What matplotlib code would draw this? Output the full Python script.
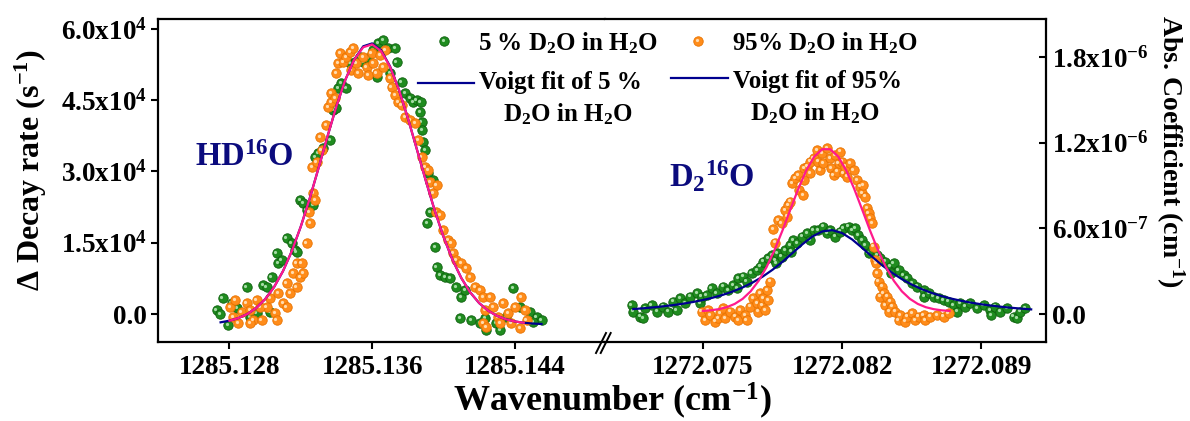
import numpy as np
import matplotlib
matplotlib.use("Agg")
import matplotlib.pyplot as plt
from matplotlib.lines import Line2D
from matplotlib import transforms

# ---------------- data ----------------
# HD16O band (left panel), decay-rate change in s^-1
hdo_5_x = [1285.12728, 1285.12746, 1285.12761, 1285.12793, 1285.12812, 1285.12843, 1285.12896, 1285.12914,
           1285.12952, 1285.12989, 1285.13008, 1285.13026, 1285.13036, 1285.13064, 1285.13073, 1285.13092,
           1285.13120, 1285.13148, 1285.13167, 1285.13176, 1285.13195, 1285.13213, 1285.13232, 1285.13269,
           1285.13279, 1285.13297, 1285.13325, 1285.13363, 1285.13381, 1285.13400, 1285.13409, 1285.13428,
           1285.13456, 1285.13475, 1285.13503, 1285.13531, 1285.13550, 1285.13578, 1285.13606, 1285.13625,
           1285.13634, 1285.13662, 1285.13690, 1285.13699, 1285.13727, 1285.13737, 1285.13765, 1285.13783,
           1285.13811, 1285.13830, 1285.13849, 1285.13867, 1285.13872, 1285.13877, 1285.13880, 1285.13886,
           1285.13895, 1285.13914, 1285.13923, 1285.13910, 1285.13942, 1285.13951, 1285.13961, 1285.13980,
           1285.14008, 1285.14036, 1285.14073, 1285.14101, 1285.14120, 1285.14092, 1285.14157, 1285.14204,
           1285.14232, 1285.14241, 1285.14297, 1285.14316, 1285.14353, 1285.14390, 1285.14428, 1285.14484,
           1285.14522, 1285.14550, 1285.14503]
hdo_5_y = [840, 0, 3370, -2320, 2320, 1260, 5680, -630,
           210, 6100, 5680, 420, 7790, 12840, 10740, 11370,
           16000, 14950, 13470, 13050, 24000, 23370, 21890, 22940,
           33050, 33890, 34940, 36630, 42940, 43360, 47570, 48630,
           47570, 52840, 53050, 54100, 53050, 53890, 55570, 49890,
           57050, 57680, 55990, 50730, 55990, 53050, 48840, 46520,
           45470, 44630, 45050, 42520, 44630, 40420, 38730, 36210,
           34520, 29680, 21470, 19160, 28210, 14100, 9890, 8210,
           7790, 7580, 5680, 3580, 5050, -840, -1260, -1890,
           -840, -3370, -1890, -3370, -630, 5470, 1470, 420,
           -630, -1260, -1680]

hdo_95_x = [1285.12802, 1285.12821, 1285.12849, 1285.12868, 1285.12896, 1285.12914, 1285.12933, 1285.12952,
            1285.12980, 1285.13008, 1285.13026, 1285.13055, 1285.13073, 1285.13101, 1285.13120, 1285.13139,
            1285.13157, 1285.13176, 1285.13195, 1285.13204, 1285.13232, 1285.13251, 1285.13247, 1285.13269,
            1285.13279, 1285.13265, 1285.13288, 1285.13307, 1285.13316, 1285.13344, 1285.13353, 1285.13372,
            1285.13368, 1285.13391, 1285.13400, 1285.13409, 1285.13419, 1285.13437, 1285.13456, 1285.13475,
            1285.13484, 1285.13493, 1285.13512, 1285.13521, 1285.13550, 1285.13569, 1285.13578, 1285.13597,
            1285.13606, 1285.13625, 1285.13643, 1285.13662, 1285.13671, 1285.13699, 1285.13709, 1285.13727,
            1285.13746, 1285.13765, 1285.13783, 1285.13811, 1285.13839, 1285.13858, 1285.13877, 1285.13895,
            1285.13914, 1285.13923, 1285.13942, 1285.13961, 1285.13957, 1285.13980, 1285.13998, 1285.14026,
            1285.14045, 1285.14054, 1285.14073, 1285.14101, 1285.14129, 1285.14148, 1285.14176, 1285.14204,
            1285.14222, 1285.14232, 1285.14260, 1285.14278, 1285.14306, 1285.14334, 1285.14362, 1285.14381,
            1285.14400, 1285.14428, 1285.14437, 1285.14456, 1285.14466, 1285.14316, 1285.14222, 1285.14241,
            1285.12830, 1285.12914, 1285.13064, 1285.12970, 1285.13120, 1285.13176, 1285.13213]
hdo_95_y = [1470, -630, -1890, 420, 2320, 840, -1260, 2950,
            -1260, 1470, 3370, 210, 4420, 2320, 6530, 4420,
            8630, 10740, 7790, 10740, 14950, 19160, 21470, 25470,
            24000, 30940, 32000, 37260, 34520, 39780, 43570, 44630,
            46520, 45470, 50730, 52840, 54940, 53050, 54100, 55150,
            51360, 55990, 52840, 50730, 54100, 51990, 50310, 54940,
            52840, 50730, 54520, 51990, 55570, 49680, 47780, 46100,
            44630, 43990, 41470, 40840, 40210, 36630, 33050, 30940,
            30310, 27790, 25470, 27150, 21470, 20840, 17680, 15580,
            14950, 12840, 11370, 10740, 9680, 7790, 5680, 5050,
            3580, 840, 3580, 1470, -630, 2320, 210, -1890,
            1470, -2950, 3580, 840, -1260, -1890, -1890, -2740,
            2950, -1890, -1260, 1470, 1470, 5680, 8630]

# Voigt fit curves of the HD16O band
hdo_fit_x = [1285.1275, 1285.1280, 1285.1285, 1285.1290, 1285.1295, 1285.1300, 1285.1305, 1285.1310,
             1285.1315, 1285.1320, 1285.1325, 1285.1330, 1285.1335, 1285.1340, 1285.1345, 1285.1350,
             1285.1355, 1285.1360, 1285.1365, 1285.1370, 1285.1375, 1285.1380, 1285.1385, 1285.1390,
             1285.1395, 1285.1400, 1285.1405, 1285.1410, 1285.1415, 1285.1420, 1285.1425, 1285.1430,
             1285.1435, 1285.1440, 1285.1445, 1285.1450, 1285.1455]
hdo_fit_5 = [-1750, -1408, -859, -2, 1281, 3128, 5665, 9028,
             13282, 18426, 24338, 30805, 37430, 43773, 49325, 53585,
             56351, 56960, 55549, 52168, 47230, 41289, 34781, 28173,
             21902, 16273, 11476, 7582, 4556, 2308, 709, -389,
             -1109, -1566, -1844, -2006, -2099]
hdo_fit_95_x = [1285.1280, 1285.1285, 1285.1290, 1285.1295, 1285.1300, 1285.1305, 1285.1310, 1285.1315,
                1285.1320, 1285.1325, 1285.1330, 1285.1335, 1285.1340, 1285.1345, 1285.1350, 1285.1355,
                1285.1360, 1285.1365, 1285.1370, 1285.1375, 1285.1380, 1285.1385, 1285.1390, 1285.1395,
                1285.1400, 1285.1405, 1285.1410, 1285.1415, 1285.1420, 1285.1425, 1285.1430, 1285.1435,
                1285.1440, 1285.1445]
hdo_fit_95 = [-1408, -859, -2, 1281, 3128, 5665, 9028, 13282,
              18426, 24338, 30805, 37430, 43773, 49325, 53585, 56151,
              56760, 55349, 52068, 47230, 41289, 34781, 28173, 21902,
              16273, 11476, 7582, 4556, 2308, 709, -389, -1109,
              -1566, -1844]

# D2 16O band (right panel), absorption coefficient in cm^-1
d2o_5_x = [1272.07142, 1272.07150, 1272.07184, 1272.07200, 1272.07209, 1272.07242, 1272.07268, 1272.07301,
           1272.07326, 1272.07351, 1272.07368, 1272.07385, 1272.07410, 1272.07435, 1272.07469, 1272.07486,
           1272.07494, 1272.07519, 1272.07544, 1272.07569, 1272.07603, 1272.07628, 1272.07653, 1272.07670,
           1272.07678, 1272.07704, 1272.07720, 1272.07745, 1272.07771, 1272.07787, 1272.07804, 1272.07829,
           1272.07846, 1272.07863, 1272.07871, 1272.07867, 1272.07896, 1272.07913, 1272.07938, 1272.07942,
           1272.07955, 1272.07972, 1272.07997, 1272.08022, 1272.08039, 1272.08056, 1272.08081, 1272.08106,
           1272.08123, 1272.08140, 1272.08165, 1272.08190, 1272.08207, 1272.08232, 1272.08249, 1272.08265,
           1272.08282, 1272.08299, 1272.08316, 1272.08333, 1272.08350, 1272.08375, 1272.08391, 1272.08416,
           1272.08442, 1272.08446, 1272.08459, 1272.08484, 1272.08509, 1272.08526, 1272.08551, 1272.08576,
           1272.08609, 1272.08613, 1272.08635, 1272.08660, 1272.08685, 1272.08710, 1272.08735, 1272.08760,
           1272.08777, 1272.08794, 1272.08819, 1272.08844, 1272.08878, 1272.08911, 1272.08945, 1272.08949,
           1272.08970, 1272.08995, 1272.09029, 1272.09062, 1272.09079, 1272.09096, 1272.09121]
d2o_5_y = [0.63e-7, 0.17e-7, -0.18e-7, -0.30e-7, 0.40e-7, 0.63e-7, 0.17e-7, 0.52e-7,
           0.17e-7, 0.86e-7, 0.28e-7, 1.10e-7, 0.75e-7, 1.22e-7, 1.45e-7, 0.75e-7,
           1.22e-7, 1.33e-7, 1.80e-7, 1.45e-7, 1.91e-7, 1.68e-7, 2.03e-7, 1.80e-7,
           2.50e-7, 2.61e-7, 2.26e-7, 2.85e-7, 3.08e-7, 3.31e-7, 3.66e-7, 3.90e-7,
           4.13e-7, 3.78e-7, 4.25e-7, 3.55e-7, 4.01e-7, 4.48e-7, 4.83e-7, 4.36e-7,
           5.18e-7, 4.95e-7, 5.41e-7, 5.65e-7, 5.18e-7, 5.88e-7, 5.88e-7, 6.11e-7,
           5.65e-7, 5.88e-7, 5.41e-7, 5.76e-7, 6.00e-7, 6.11e-7, 5.88e-7, 6.00e-7,
           5.53e-7, 5.18e-7, 4.83e-7, 4.25e-7, 4.48e-7, 4.13e-7, 3.90e-7, 3.66e-7,
           3.31e-7, 2.85e-7, 3.55e-7, 3.08e-7, 2.73e-7, 2.50e-7, 2.15e-7, 1.91e-7,
           1.68e-7, 1.22e-7, 1.45e-7, 1.22e-7, 1.10e-7, 0.98e-7, 0.86e-7, 0.63e-7,
           0.17e-7, 0.75e-7, 0.52e-7, 0.75e-7, 0.40e-7, 0.63e-7, 0.28e-7, -0.07e-7,
           0.52e-7, 0.17e-7, 0.40e-7, -0.18e-7, -0.30e-7, 0.17e-7, 0.40e-7]

d2o_95_x = [1272.07494, 1272.07511, 1272.07528, 1272.07536, 1272.07561, 1272.07578, 1272.07586, 1272.07603,
            1272.07611, 1272.07637, 1272.07662, 1272.07678, 1272.07687, 1272.07712, 1272.07720, 1272.07737,
            1272.07754, 1272.07771, 1272.07779, 1272.07787, 1272.07796, 1272.07804, 1272.07813, 1272.07821,
            1272.07829, 1272.07838, 1272.07852, 1272.07863, 1272.07880, 1272.07896, 1272.07922, 1272.07913,
            1272.07930, 1272.07938, 1272.07947, 1272.07964, 1272.07980, 1272.07983, 1272.08003, 1272.08006,
            1272.08010, 1272.08022, 1272.08039, 1272.08039, 1272.08056, 1272.08073, 1272.08081, 1272.08090,
            1272.08098, 1272.08106, 1272.08123, 1272.08140, 1272.08143, 1272.08157, 1272.08165, 1272.08174,
            1272.08182, 1272.08190, 1272.08199, 1272.08207, 1272.08216, 1272.08224, 1272.08241, 1272.08257,
            1272.08274, 1272.08291, 1272.08299, 1272.08307, 1272.08316, 1272.08324, 1272.08333, 1272.08341,
            1272.08350, 1272.08358, 1272.08366, 1272.08372, 1272.08375, 1272.08383, 1272.08391, 1272.08400,
            1272.08408, 1272.08416, 1272.08425, 1272.08434, 1272.08442, 1272.08450, 1272.08467, 1272.08484,
            1272.08492, 1272.08518, 1272.08526, 1272.08551, 1272.08568, 1272.08584, 1272.08609, 1272.08618,
            1272.08643, 1272.08676, 1272.08710, 1272.08735]
d2o_95_y = [0.17e-7, -0.42e-7, 0.28e-7, -0.07e-7, -0.54e-7, -0.30e-7, 0.05e-7, 0.40e-7,
            -0.30e-7, 0.17e-7, -0.18e-7, -0.42e-7, 0.28e-7, -0.07e-7, -0.42e-7, 0.52e-7,
            1.10e-7, 0.75e-7, 0.17e-7, 1.45e-7, 0.63e-7, 1.10e-7, 0.28e-7, 1.68e-7,
            0.98e-7, 2.26e-7, 5.95e-7, 4.99e-7, 6.58e-7, 6.35e-7, 6.81e-7, 7.28e-7,
            7.63e-7, 7.86e-7, 9.15e-7, 9.50e-7, 9.73e-7, 8.68e-7, 8.33e-7, 9.38e-7,
            10.20e-7, 10.31e-7, 10.66e-7, 9.85e-7, 10.90e-7, 11.48e-7, 10.66e-7, 10.08e-7,
            11.25e-7, 10.55e-7, 11.60e-7, 10.90e-7, 10.20e-7, 9.73e-7, 11.13e-7, 9.96e-7,
            10.55e-7, 11.36e-7, 10.66e-7, 9.85e-7, 10.31e-7, 9.62e-7, 10.55e-7, 10.08e-7,
            9.38e-7, 8.91e-7, 8.45e-7, 9.03e-7, 8.21e-7, 7.40e-7, 7.05e-7, 6.70e-7,
            6.35e-7, 4.71e-7, 3.78e-7, 3.55e-7, 2.85e-7, 2.26e-7, 1.22e-7, 1.91e-7,
            1.45e-7, 0.63e-7, 1.22e-7, 0.17e-7, 0.86e-7, 0.52e-7, 0.17e-7, -0.42e-7,
            -0.07e-7, -0.54e-7, -0.18e-7, 0.05e-7, -0.42e-7, -0.18e-7, -0.07e-7, -0.42e-7,
            -0.18e-7, -0.07e-7, -0.18e-7, 0.05e-7]

# Voigt fit curves of the D2 16O band
d2o_fit_5_x = [1272.0715, 1272.0720, 1272.0725, 1272.0730, 1272.0735, 1272.0740, 1272.0745, 1272.0750,
               1272.0755, 1272.0760, 1272.0765, 1272.0770, 1272.0775, 1272.0780, 1272.0785, 1272.0790,
               1272.0795, 1272.0800, 1272.0805, 1272.0810, 1272.0815, 1272.0820, 1272.0825, 1272.0830,
               1272.0835, 1272.0840, 1272.0845, 1272.0850, 1272.0855, 1272.0860, 1272.0865, 1272.0870,
               1272.0875, 1272.0880, 1272.0885, 1272.0890, 1272.0895, 1272.0900, 1272.0905, 1272.0910,
               1272.0915]
d2o_fit_5 = [0.343e-7, 0.399e-7, 0.463e-7, 0.536e-7, 0.622e-7, 0.722e-7, 0.839e-7, 0.978e-7,
             1.142e-7, 1.339e-7, 1.576e-7, 1.860e-7, 2.203e-7, 2.613e-7, 3.097e-7, 3.654e-7,
             4.264e-7, 4.880e-7, 5.421e-7, 5.780e-7, 5.870e-7, 5.665e-7, 5.220e-7, 4.636e-7,
             4.015e-7, 3.422e-7, 2.894e-7, 2.440e-7, 2.058e-7, 1.740e-7, 1.476e-7, 1.256e-7,
             1.073e-7, 0.919e-7, 0.790e-7, 0.680e-7, 0.586e-7, 0.506e-7, 0.436e-7, 0.376e-7,
             0.323e-7]
d2o_fit_95_x = [1272.0750, 1272.0754, 1272.0758, 1272.0762, 1272.0766, 1272.0770, 1272.0774, 1272.0778,
                1272.0782, 1272.0786, 1272.0790, 1272.0794, 1272.0798, 1272.0802, 1272.0806, 1272.0810,
                1272.0814, 1272.0818, 1272.0822, 1272.0826, 1272.0830, 1272.0834, 1272.0838, 1272.0842,
                1272.0846, 1272.0850, 1272.0854, 1272.0858, 1272.0862, 1272.0866, 1272.0870, 1272.0874]
d2o_fit_95 = [0.214e-7, 0.258e-7, 0.339e-7, 0.478e-7, 0.707e-7, 1.063e-7, 1.587e-7, 2.320e-7,
              3.282e-7, 4.472e-7, 5.848e-7, 7.327e-7, 8.780e-7, 10.063e-7, 11.021e-7, 11.534e-7,
              11.534e-7, 11.021e-7, 10.063e-7, 8.780e-7, 7.327e-7, 5.848e-7, 4.472e-7, 3.282e-7,
              2.320e-7, 1.587e-7, 1.063e-7, 0.707e-7, 0.478e-7, 0.339e-7, 0.258e-7, 0.214e-7]

# axis ticks and labels
hdo_xticks = [1285.128, 1285.136, 1285.144]
hdo_xtick_labels = ['1285.128', '1285.136', '1285.144']
d2o_xticks = [1272.075, 1272.082, 1272.089]
d2o_xtick_labels = ['1272.075', '1272.082', '1272.089']
decay_yticks = [0.0, 1.5e4, 3.0e4, 4.5e4, 6.0e4]
decay_ytick_labels = ['0.0', '1.5x10$^{4}$', '3.0x10$^{4}$', '4.5x10$^{4}$', '6.0x10$^{4}$']
abs_yticks = [0.0, 6.0e-7, 1.2e-6, 1.8e-6]
abs_ytick_labels = ['0.0', '6.0x10$^{-7}$', '1.2x10$^{-6}$', '1.8x10$^{-6}$']

series_labels = ['5 % D$_{2}$O in H$_{2}$O', '95% D$_{2}$O in H$_{2}$O']
fit_labels = [('Voigt fit of 5 %', 'D$_{2}$O in H$_{2}$O'), ('Voigt fit of 95%', 'D$_{2}$O in H$_{2}$O')]

# ---------------- style ----------------
plt.rcParams['font.family'] = ['Liberation Serif', 'DejaVu Serif']
plt.rcParams['font.weight'] = 'bold'
plt.rcParams['mathtext.fontset'] = 'custom'
plt.rcParams['mathtext.rm'] = 'Liberation Serif:bold'
plt.rcParams['mathtext.it'] = 'Liberation Serif:bold'
plt.rcParams['mathtext.bf'] = 'Liberation Serif:bold'
plt.rcParams['mathtext.default'] = 'rm'

GREEN, GREEN_EDGE, GREEN_HI = '#1f8c1f', '#0d600d', '#a6dca6'
ORANGE, ORANGE_EDGE, ORANGE_HI = '#ff8c1a', '#e87300', '#ffdcb0'
NAVY = '#00008f'
PINK = '#ff1a8c'
LABEL_NAVY = '#0b0b7d'
TICK_SIZE = 19.5

W, H = 1190, 421
fig = plt.figure(figsize=(W / 100, H / 100), dpi=100)


def fx(px):
    return px / W


def fy(py):
    return 1 - py / H


ax1 = fig.add_axes([fx(158), fy(342), (605 - 158) / W, (342 - 19) / H])
ax2 = fig.add_axes([fx(605), fy(342), (1045.5 - 605) / W, (342 - 19) / H])


def spheres(ax, x, y, face, edge, hi, z):
    ax.plot(x, y, 'o', ls='none', ms=6.8, mfc=face, mec=edge, mew=0.6, zorder=z)
    shifted = transforms.offset_copy(ax.transData, fig=fig, x=-1.2, y=1.3, units='dots')
    ax.plot(x, y, 'o', ls='none', ms=2.3, mfc=hi, mec='none', transform=shifted, zorder=z + 0.1)


spheres(ax1, hdo_5_x, hdo_5_y, GREEN, GREEN_EDGE, GREEN_HI, 2)
spheres(ax1, hdo_95_x, hdo_95_y, ORANGE, ORANGE_EDGE, ORANGE_HI, 2.2)
ax1.plot(hdo_fit_x, hdo_fit_5, color=NAVY, lw=1.6, zorder=3)
ax1.plot(hdo_fit_95_x, hdo_fit_95, color=PINK, lw=1.6, zorder=3.1)

spheres(ax2, d2o_5_x, d2o_5_y, GREEN, GREEN_EDGE, GREEN_HI, 2)
spheres(ax2, d2o_95_x, d2o_95_y, ORANGE, ORANGE_EDGE, ORANGE_HI, 2.2)
ax2.plot(d2o_fit_5_x, d2o_fit_5, color=NAVY, lw=1.6, zorder=3)
ax2.plot(d2o_fit_95_x, d2o_fit_95, color=PINK, lw=1.6, zorder=3.1)

ax1.set_xlim(1285.12399, 1285.14906)
ax1.set_ylim(-5894, 62098)
ax2.set_xlim(1272.07008, 1272.09222)
ax2.set_ylim(-1.96e-7, 2.065e-6)

for ax in (ax1, ax2):
    for s in ax.spines.values():
        s.set_linewidth(1.6)
ax1.spines['right'].set_visible(False)
ax2.spines['left'].set_visible(False)

ax1.set_xticks(hdo_xticks)
ax1.set_xticklabels(hdo_xtick_labels)
ax1.set_yticks(decay_yticks)
ax1.set_yticklabels(decay_ytick_labels)
ax2.set_xticks(d2o_xticks)
ax2.set_xticklabels(d2o_xtick_labels)
ax2.yaxis.tick_right()
ax2.set_yticks(abs_yticks)
ax2.set_yticklabels(abs_ytick_labels)

ax1.tick_params(axis='both', direction='out', length=5, width=1.5, labelsize=TICK_SIZE, pad=3)
ax1.tick_params(axis='x', pad=4)
ax2.tick_params(axis='x', direction='out', length=5, width=1.5, labelsize=TICK_SIZE, pad=4)
ax2.tick_params(axis='y', direction='in', length=5, width=1.5, labelsize=TICK_SIZE, pad=5)

# axis titles
fig.text(fx(612), fy(401), 'Wavenumber (cm$^{-1}$)', ha='center', va='center', fontsize=26)
fig.text(fx(31), fy(170), '\u0394 Decay rate (s$^{-1}$)', ha='center', va='center',
         rotation=90, fontsize=23)
fig.text(fx(1170), fy(151), 'Abs. Coefficient (cm$^{-1}$)', ha='center', va='center',
         rotation=-90, fontsize=20)

# band labels
fig.text(fx(195), fy(166), 'HD$^{16}$O', color=LABEL_NAVY, fontsize=23.5, va='baseline')
fig.text(fx(669), fy(187), 'D$_{2}{}^{16}$O', color=LABEL_NAVY, fontsize=23.5, va='baseline')

# break marks on the wavenumber axis
for x0 in (596.0, 600.7):
    fig.add_artist(Line2D([fx(x0), fx(x0 + 10)], [fy(353), fy(333)], color='black', lw=1.4,
                          transform=fig.transFigure))

# key
for (px, face, edge, hi), lab in zip([(444, GREEN, GREEN_EDGE, GREEN_HI),
                                      (698, ORANGE, ORANGE_EDGE, ORANGE_HI)], series_labels):
    fig.add_artist(Line2D([fx(px)], [fy(41)], marker='o', ms=6.8, mfc=face, mec=edge, mew=0.6,
                          ls='none', transform=fig.transFigure))
    fig.add_artist(Line2D([fx(px - 1.2)], [fy(39.7)], marker='o', ms=2.3, mfc=hi, mec='none',
                          ls='none', transform=fig.transFigure))
    fig.text(fx(px + 34), fy(50), lab, fontsize=18, va='baseline', ha='left')

for (x0, x1, ly, tx, ty1, cx, ty2), (l1, l2) in zip(
        [(418, 474, 83, 479, 89, 568, 121), (671, 728, 78, 733, 88, 815, 120)], fit_labels):
    fig.add_artist(Line2D([fx(x0), fx(x1)], [fy(ly), fy(ly)], color=NAVY, lw=1.6,
                          transform=fig.transFigure))
    fig.text(fx(tx), fy(ty1), l1, fontsize=18, va='baseline', ha='left')
    fig.text(fx(cx), fy(ty2), l2, fontsize=18, va='baseline', ha='center')

fig.savefig('out.png', dpi=100)
